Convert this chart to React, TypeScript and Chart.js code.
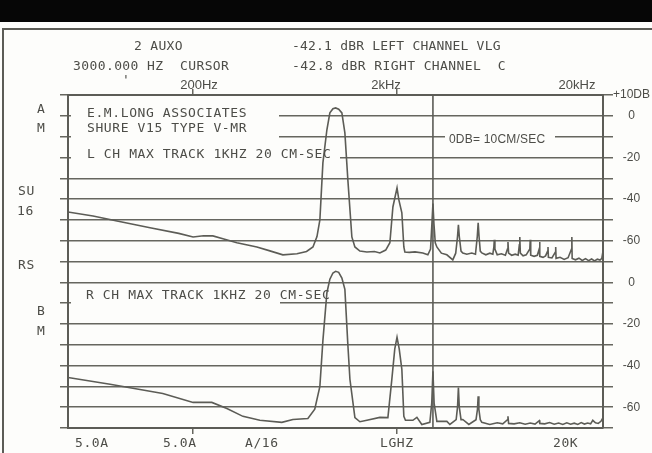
import React, { useEffect, useRef } from 'react';
import { Chart, registerables } from 'chart.js';

Chart.register(...registerables);

// ---- data (frequency in Hz, level in dB) ----
const lFreq = [48.7, 64.6, 84.7, 123, 170, 200, 225, 250, 280, 328, 411, 476, 551, 646, 720, 774, 810, 837, 866, 906, 937, 970, 1000, 1035, 1073, 1110, 1148, 1201, 1243, 1315, 1423, 1550, 1648, 1760, 1845, 1909, 2000, 2042, 2112, 2160, 2185, 2300, 2450, 2676, 2833, 2920, 2965, 3000, 3035, 3080, 3136, 3300, 3511, 3755, 3880, 3960, 4000, 4040, 4120, 4203, 4400, 4651, 4850, 4950, 5000, 5050, 5120, 5211, 5450, 5703, 5900, 5970, 6000, 6040, 6200, 6500, 6800, 6960, 7000, 7050, 7300, 7600, 7850, 7960, 8000, 8050, 8300, 8600, 8960, 9000, 9050, 9400, 9750, 9960, 10000, 10050, 10400, 10700, 10960, 11000, 11050, 11500, 11960, 12000, 12050, 12600, 13200, 13800, 14350, 14400, 14450, 15000, 15600, 16200, 16800, 17400, 18000, 18600, 19200, 19800, 20200, 20470];
const lDb = [-46.2, -48.1, -50.5, -53.8, -56.5, -58.2, -57.6, -57.7, -59.1, -61, -63, -64.9, -66.8, -66.3, -65.2, -63, -58, -50, -22.6, -6.7, 1.4, 3.4, 3.8, 3.2, 1.4, -8.2, -30.8, -58.2, -63, -65, -65.4, -65.2, -65.9, -64.5, -61, -43.8, -34.6, -40.4, -46.6, -63, -65.4, -65.6, -65.4, -65.9, -66.8, -64, -52, -42.1, -52, -61, -63, -66, -66.8, -69.2, -66, -58, -52.4, -58, -65, -65.9, -66.5, -65.9, -66.5, -58, -51.4, -58, -65, -65.9, -66.8, -66, -66.5, -63, -59.6, -64, -66.8, -66.3, -67, -64, -60.6, -66, -67, -66.5, -67, -62, -58.2, -66, -67.3, -66.8, -64, -59.6, -67, -67.5, -67, -64, -60.6, -67.5, -68, -67.3, -65, -63, -68, -68.3, -65.5, -63, -68.5, -68, -69, -68.2, -64, -58.2, -68.5, -69.2, -68.4, -69.5, -68.6, -69.6, -68.8, -69.7, -68.9, -69.3, -68.5, -65];

const rFreq = [48.7, 78.3, 142, 200, 247, 293, 351, 425, 545, 617, 731, 790, 837, 866, 906, 937, 970, 1000, 1035, 1073, 1110, 1148, 1175, 1243, 1315, 1423, 1648, 1804, 1886, 1950, 2000, 2050, 2112, 2160, 2200, 2392, 2503, 2646, 2898, 2960, 3000, 3040, 3136, 3511, 3633, 3900, 3960, 4000, 4040, 4120, 4203, 4500, 4880, 4960, 5000, 5040, 5120, 5211, 5703, 6200, 6600, 6960, 7000, 7050, 7500, 8000, 8500, 9000, 9500, 9970, 10000, 10050, 10600, 11200, 11800, 12400, 13000, 13600, 14200, 14800, 15400, 16000, 16600, 17200, 17800, 18240, 18800, 19400, 20000, 20470];
const rDb = [-45.7, -49, -53.4, -57.7, -57.7, -60.6, -64.4, -66.3, -67.3, -65.9, -65.4, -61, -50, -28, -5, 1.5, 4.5, 5.3, 4.8, 2, -3.4, -30, -46.6, -65, -67, -66.3, -64.9, -65, -46.6, -32, -26.4, -32, -41.8, -64.4, -66.3, -66.3, -64.9, -68.3, -67.3, -58, -42.8, -58, -66.8, -66.8, -68.3, -66, -60, -50.5, -60, -66, -65.9, -68.3, -66, -61, -54.8, -61, -66, -67.3, -68.3, -67.5, -68, -66, -64.4, -67.8, -68, -67.5, -68.2, -67.6, -68.1, -66.5, -66.3, -67.8, -68, -67.4, -68.2, -67.6, -68.3, -67.5, -68.2, -67.7, -68.3, -67.4, -68.1, -67.6, -68, -66.3, -67.5, -67.8, -66.8, -65];

const R_OFFSET = -80; // right channel is drawn in the lower panel
const cursorFreq = 3000;
const freqMin = 48.7;
const freqMax = 20470;
const dbMin = -150;
const dbMax = 10;
const freqTickValues = [200, 2000];
const rightTickValues = [10, 0, -20, -40, -60, -80, -100, -120, -140];
const rightTickLabels = ['+10DB', '0', '-20', '-40', '-60', '0', '-20', '-40', '-60'];

// ---- styling ----
const INK = '#5c5c56';
const GRID = '#66665f';
const TEXT = '#4d4d48';
const PAPER = '#fdfdfb';
const MONO = '"DejaVu Sans Mono", monospace';
const SANS = '"Liberation Sans", Arial, sans-serif';

// white areas behind annotations (x0, y0, x1, y1)
const maskBoxes = [
  [71, 104, 279, 143],
  [71, 150, 340, 161],
  [71, 299, 280, 307],
  [445, 131, 555, 146],
];

type Lbl = { t: string; x: number; y: number; size?: number; ls?: number; font?: string; center?: boolean };
const texts: Lbl[] = [
  { t: '2 AUXO', x: 134, y: 46, ls: 0.3 },
  { t: '3000.000 HZ  CURSOR', x: 73, y: 66, ls: 0.4 },
  { t: "'", x: 122, y: 80 },
  { t: '-42.1 dBR LEFT CHANNEL VLG', x: 292, y: 46, ls: 0.2 },
  { t: '-42.8 dBR RIGHT CHANNEL  C', x: 292, y: 66, ls: 0.4 },
  { t: '200Hz', x: 199, y: 85, font: SANS, size: 13, ls: 0, center: true },
  { t: '2kHz', x: 386, y: 85, font: SANS, size: 13, ls: 0, center: true },
  { t: '20kHz', x: 577, y: 85, font: SANS, size: 13, ls: 0, center: true },
  { t: 'A', x: 37, y: 109 },
  { t: 'M', x: 37, y: 128 },
  { t: 'SU', x: 18, y: 191 },
  { t: '16', x: 17, y: 211 },
  { t: 'RS', x: 18, y: 265 },
  { t: 'B', x: 37, y: 311 },
  { t: 'M', x: 37, y: 331 },
  { t: 'E.M.LONG ASSOCIATES', x: 87, y: 113 },
  { t: 'SHURE V15 TYPE V-MR', x: 87, y: 128 },
  { t: 'L CH MAX TRACK 1KHZ 20 CM-SEC', x: 87, y: 154 },
  { t: 'R CH MAX TRACK 1KHZ 20 CM-SEC', x: 86, y: 295 },
  { t: '0DB= 10CM/SEC', x: 449, y: 139, font: SANS, size: 12, ls: 0.2 },
  { t: '5.0A', x: 75, y: 443 },
  { t: '5.0A', x: 163, y: 443 },
  { t: 'A/16', x: 245, y: 443 },
  { t: 'LGHZ', x: 380, y: 443 },
  { t: '20K', x: 553, y: 443 },
];

const paperPlugin = {
  id: 'paper',
  beforeDraw(chart: any) {
    const ctx = chart.ctx;
    ctx.save();
    ctx.fillStyle = PAPER;
    ctx.fillRect(0, 0, chart.width, chart.height);
    ctx.fillStyle = '#060606';
    ctx.fillRect(0, 0, chart.width, 22);
    ctx.strokeStyle = INK;
    ctx.lineWidth = 2;
    ctx.beginPath();
    ctx.moveTo(3, chart.height);
    ctx.lineTo(3, 29);
    ctx.lineTo(chart.width, 29);
    ctx.stroke();
    ctx.restore();
  },
  beforeDatasetsDraw(chart: any) {
    const ctx = chart.ctx;
    ctx.save();
    ctx.fillStyle = PAPER;
    for (const b of maskBoxes) ctx.fillRect(b[0], b[1], b[2] - b[0], b[3] - b[1]);
    ctx.restore();
  },
};

export default function App() {
  const ref = useRef<HTMLCanvasElement | null>(null);

  useEffect(() => {
    if (!ref.current) return;
    const lineDs = (data: { x: number; y: number }[]) => ({
      data,
      borderColor: INK,
      borderWidth: 1.6,
      pointRadius: 0,
      tension: 0,
      fill: false,
      xAxisID: 'x',
      yAxisID: 'y',
    });
    const freqAxis = (position: string, height: number) => ({
      type: 'logarithmic' as const,
      position,
      min: freqMin,
      max: freqMax,
      bounds: 'data' as const,
      afterBuildTicks: (s: any) => {
        s.ticks = freqTickValues.map((v) => ({ value: v }));
      },
      afterFit: (s: any) => {
        s.height = height;
      },
      ticks: { display: false },
      grid: { drawOnChartArea: false, drawTicks: true, tickLength: 6, color: GRID, lineWidth: 1.5 },
      border: { display: true, color: INK, width: 2 },
    });

    const chart = new Chart(ref.current, {
      type: 'line',
      data: {
        datasets: [
          { label: 'L', ...lineDs(lFreq.map((f, i) => ({ x: f, y: lDb[i] }))) },
          { label: 'R', ...lineDs(rFreq.map((f, i) => ({ x: f, y: rDb[i] + R_OFFSET }))) },
          { label: 'cursor', ...lineDs([{ x: cursorFreq, y: dbMax }, { x: cursorFreq, y: dbMin }]) },
        ],
      } as any,
      options: {
        animation: false,
        responsive: false,
        maintainAspectRatio: false,
        layout: { padding: 0 },
        events: [],
        plugins: { legend: { display: false }, tooltip: { enabled: false }, title: { display: false } },
        scales: {
          x: freqAxis('top', 95),
          x2: freqAxis('bottom', 25),
          y: {
            type: 'linear',
            position: 'right',
            min: dbMin,
            max: dbMax,
            afterFit: (s: any) => {
              s.width = 49;
            },
            ticks: {
              stepSize: 10,
              autoSkip: false,
              crossAlign: 'center',
              padding: 0,
              color: TEXT,
              font: { family: SANS, size: 12 },
              callback: (v: any) => {
                const i = rightTickValues.indexOf(Number(v));
                return i >= 0 ? rightTickLabels[i] : '';
              },
            },
            grid: { color: GRID, lineWidth: 1.5, tickLength: 10 },
            border: { display: true, color: INK, width: 2 },
          },
          y2: {
            type: 'linear',
            position: 'left',
            min: dbMin,
            max: dbMax,
            afterFit: (s: any) => {
              s.width = 68;
            },
            ticks: { display: false, stepSize: 10, autoSkip: false },
            grid: { drawOnChartArea: false, color: GRID, lineWidth: 1.5, tickLength: 8 },
            border: { display: true, color: INK, width: 2 },
          },
        },
      } as any,
      plugins: [paperPlugin],
    });
    return () => chart.destroy();
  }, []);

  return (
    <div style={{ position: 'absolute', left: 0, top: 0, width: 652, height: 453, overflow: 'hidden', background: PAPER }}>
      <canvas ref={ref} width={652} height={453} style={{ position: 'absolute', left: 0, top: 0, display: 'block' }} />
      {texts.map((l, i) => {
        const size = l.size ?? 13;
        return (
          <span
            key={i}
            style={{
              position: 'absolute',
              left: l.x,
              top: l.y - 8,
              lineHeight: '16px',
              fontSize: size,
              fontFamily: l.font ?? MONO,
              letterSpacing: (l.ls ?? 0.6) + 'px',
              color: TEXT,
              whiteSpace: 'pre',
              transform: l.center ? 'translateX(-50%)' : undefined,
            }}
          >
            {l.t}
          </span>
        );
      })}
    </div>
  );
}
